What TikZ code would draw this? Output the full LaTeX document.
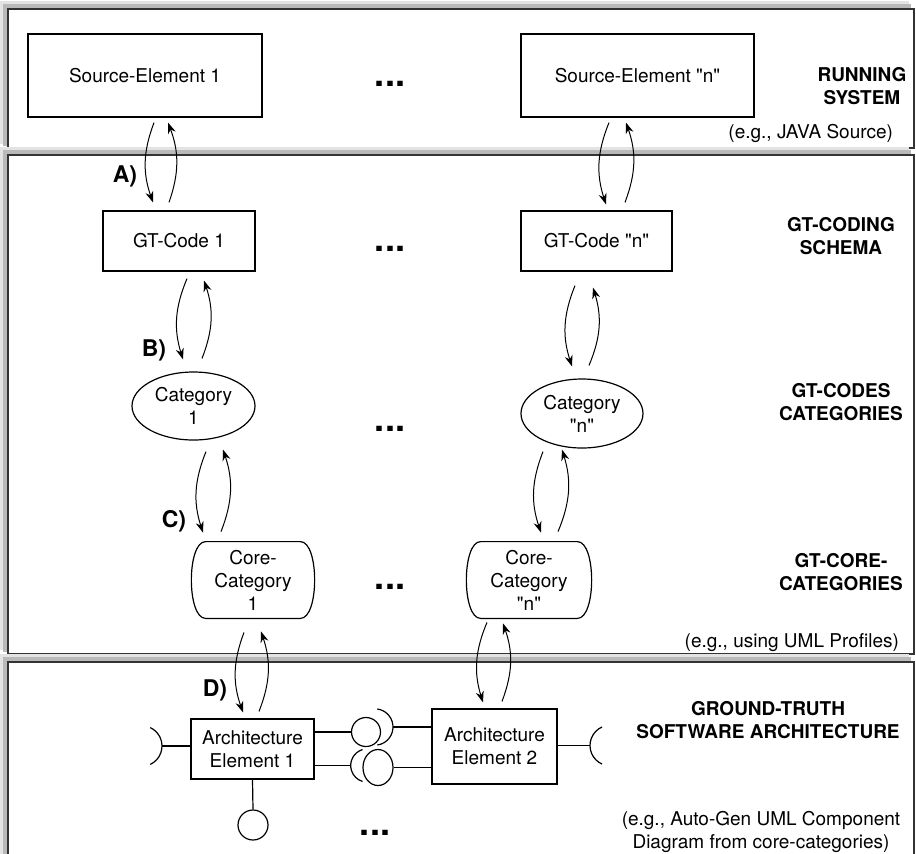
\documentclass[tikz,border=0pt]{standalone}
\usepackage{fontspec}
\setmainfont{TeX Gyre Heros}
\newfontfamily\heros{TeX Gyre Heros}
\usetikzlibrary{arrows.meta,shapes.geometric}

\newcommand{\sockarc}[4]{% apex, facing angle, half span, radius
  \draw[line width=0.6pt] (#1) ++({#2+180}:#4) ++({#2-#3}:#4)
    arc[start angle={#2-#3},end angle={#2+#3},radius=#4];}

\begin{document}
\begin{tikzpicture}[x=0.5pt,y=-0.5pt,font=\heros\fontsize{9.5}{11.5}\selectfont,
  >={Stealth[length=5.5pt,width=4pt]},
  box/.style={draw,line width=0.6pt,inner sep=0pt,align=center},
  cat/.style={draw,ellipse,line width=0.6pt,inner sep=0pt,align=center},
  core/.style={inner sep=0pt,align=center,minimum height=38pt},
  layername/.style={font=\heros\bfseries\fontsize{9.5}{11.8}\selectfont,align=center},
  note/.style={align=center},
  lbl/.style={font=\heros\bfseries\fontsize{11.5}{13}\selectfont,inner sep=0pt},
  dotsym/.style={font=\heros\bfseries\fontsize{18}{18}\selectfont,inner sep=0pt},
  ball/.style={draw,line width=0.6pt,inner sep=0pt},
  flow/.style={->,line width=0.5pt,bend right=20}]
  \useasboundingbox (0,0) rectangle (916,853);

  % layers with shadow
  \foreach \ya/\yb in {9/148,155/654,662/880} {
    \fill[gray!22] (0,\ya-8) rectangle (909,\yb-4);
    \fill[gray!55] (3,\ya-5) rectangle (911,\yb-2);
    \draw[black!80,line width=0.8pt,fill=white] (8,\ya) rectangle (914,\yb);
  }

  % running system
  \node[box,minimum width=117pt,minimum height=41.5pt] (se1) at (145,75.5) {Source-Element 1};
  \node[box,minimum width=116.5pt,minimum height=41.5pt] (sen) at (637.5,75.5) {Source-Element "n"};
  \node[dotsym] (d1) at (390,84) {...};
  \node[layername] (l1) at (862,86) {RUNNING\\SYSTEM};
  \node[note,anchor=east] (e1) at (900,133) {(e.g., JAVA Source)};

  % coding schema
  \node[box,minimum width=76pt,minimum height=30pt] (gt1) at (179,241) {GT-Code 1};
  \node[box,minimum width=75.5pt,minimum height=30pt] (gtn) at (596.5,241) {GT-Code "n"};
  \node[dotsym] (d2) at (390,248.5) {...};
  \node[layername] (l2) at (841,236) {GT-CODING\\SCHEMA};

  % categories
  \node[cat,minimum width=61.5pt,minimum height=34pt] (cat1) at (193.5,406) {Category\\1};
  \node[cat,minimum width=61pt,minimum height=34.5pt] (catn) at (582,413.5) {Category\\"n"};
  \node[dotsym] (d3) at (390,428.5) {...};
  \node[layername] (l3) at (841,402) {GT-CODES\\CATEGORIES};

  % core categories
  \node[core,minimum width=61pt] (cc1) at (253,580) {Core-\\Category\\1};
  \node[core,minimum width=62pt] (ccn) at (529,580) {Core-\\Category\\"n"};
  \foreach \n in {cc1,ccn}
    \draw[line width=0.6pt] ([xshift=7pt]\n.north west) -- ([xshift=-7pt]\n.north east)
      .. controls ([xshift=2.5pt]\n.north east) and ([xshift=2.5pt]\n.south east) .. ([xshift=-7pt]\n.south east)
      -- ([xshift=7pt]\n.south west)
      .. controls ([xshift=-2.5pt]\n.south west) and ([xshift=-2.5pt]\n.north west) .. cycle;
  \node[dotsym] (d4) at (390,587) {...};
  \node[layername] (l4) at (841,572) {GT-CORE-\\CATEGORIES};
  \node[note,anchor=east] (e2) at (906,643) {(e.g., using UML Profiles)};

  % architecture
  \node[box,minimum width=61.5pt,minimum height=30pt] (ae1) at (252.5,749) {Architecture\\Element 1};
  \node[box,minimum width=62.5pt,minimum height=37.5pt] (ae2) at (494.5,746.5) {Architecture\\Element 2};
  \node[ball,circle,minimum size=14.5pt] (b1) at (366,732) {};
  \node[ball,ellipse,minimum width=15pt,minimum height=18pt] (b2) at (378,767.5) {};
  \node[ball,circle,minimum size=15pt] (b3) at (253,825) {};
  \coordinate (sk0) at (162,746);
  \coordinate (sk2) at (393,727);
  \coordinate (sk3) at (350.7,765.5);
  \coordinate (sk4) at (590,745.5);
  \draw[line width=0.6pt] (sk0 -| ae1.west) -- (sk0);
  \draw[line width=0.6pt] (b1.west -| ae1.east) -- (b1.west);
  \draw[line width=0.6pt] (sk2) -- (sk2 -| ae2.west);
  \draw[line width=0.6pt] (sk3 -| ae1.east) -- (sk3);
  \draw[line width=0.6pt] (b2.east) -- (b2.east -| ae2.west);
  \draw[line width=0.6pt] (sk4 -| ae2.east) -- (sk4);
  \draw[line width=0.6pt] (ae1.south) -- (b3.north);
  \sockarc{sk0}{0}{65}{10.15pt}
  \sockarc{sk2}{0}{82}{9.1pt}
  \sockarc{sk3}{180}{73}{8.35pt}
  \sockarc{sk4}{180}{66}{10.15pt}
  \node[dotsym] (d5) at (375,832.5) {...};
  \node[layername] (l5) at (768,720) {GROUND-TRUTH\\SOFTWARE ARCHITECTURE};
  \node[note] (e3) at (761,832) {(e.g., Auto-Gen UML Component\\Diagram from core-categories)};

  % step labels
  \node[lbl] (la) at (125,176) {A)};
  \node[lbl] (lb) at (154,350) {B)};
  \node[lbl] (lc) at (174,521) {C)};
  \node[lbl] (ld) at (215,690) {D)};

  % A
  \draw[flow] ([xshift=4.5pt,yshift=-2.5pt]se1.south) to ([xshift=-13pt,yshift=4pt]gt1.north);
  \draw[flow] ([xshift=-5pt,yshift=4pt]gt1.north) to ([xshift=11.5pt,yshift=-2.5pt]se1.south);
  \draw[flow] ([xshift=-14.25pt,yshift=-2.5pt]sen.south) to ([xshift=4.75pt,yshift=3pt]gtn.north);
  \draw[flow] ([xshift=14.25pt,yshift=4pt]gtn.north) to ([xshift=-5.75pt,yshift=-2.5pt]sen.south);
  % B
  \draw[flow] ([xshift=4pt,yshift=-3.5pt]gt1.south) to ([xshift=-5.25pt,yshift=6pt]cat1.north);
  \draw[flow] ([xshift=4.25pt,yshift=6.5pt]cat1.north) to ([xshift=12.5pt,yshift=-4.5pt]gt1.south);
  \draw[flow] ([xshift=-10.75pt,yshift=-7pt]gtn.south) to ([xshift=-5pt,yshift=6pt]catn.north);
  \draw[flow] ([xshift=3.5pt,yshift=6.5pt]catn.north) to ([xshift=-1.75pt,yshift=-8pt]gtn.south);
  % C
  \draw[flow] ([xshift=6.25pt,yshift=-5.5pt]cat1.south) to ([xshift=-25pt,yshift=4.5pt]cc1.north);
  \draw[flow] ([xshift=-16pt,yshift=5pt]cc1.north) to ([xshift=14.75pt,yshift=-4.5pt]cat1.south);
  \draw[flow] ([xshift=-19.5pt,yshift=-1.5pt]catn.south) to ([xshift=6pt,yshift=4.5pt]ccn.north);
  \draw[flow] ([xshift=14.5pt,yshift=5pt]ccn.north) to ([xshift=-10pt,yshift=-0.5pt]catn.south);
  % D
  \draw[flow] ([xshift=-4.5pt,yshift=-7pt]cc1.south) to ([xshift=-4.75pt,yshift=3pt]ae1.north);
  \draw[flow] ([xshift=3.25pt,yshift=3.5pt]ae1.north) to ([xshift=4pt,yshift=-6.5pt]cc1.south);
  \draw[flow] ([xshift=-21pt,yshift=-2pt]ccn.south) to ([xshift=-5.75pt,yshift=3pt]ae2.north);
  \draw[flow] ([xshift=3.75pt,yshift=3.5pt]ae2.north) to ([xshift=-13pt,yshift=-2.5pt]ccn.south);
\end{tikzpicture}
\end{document}
